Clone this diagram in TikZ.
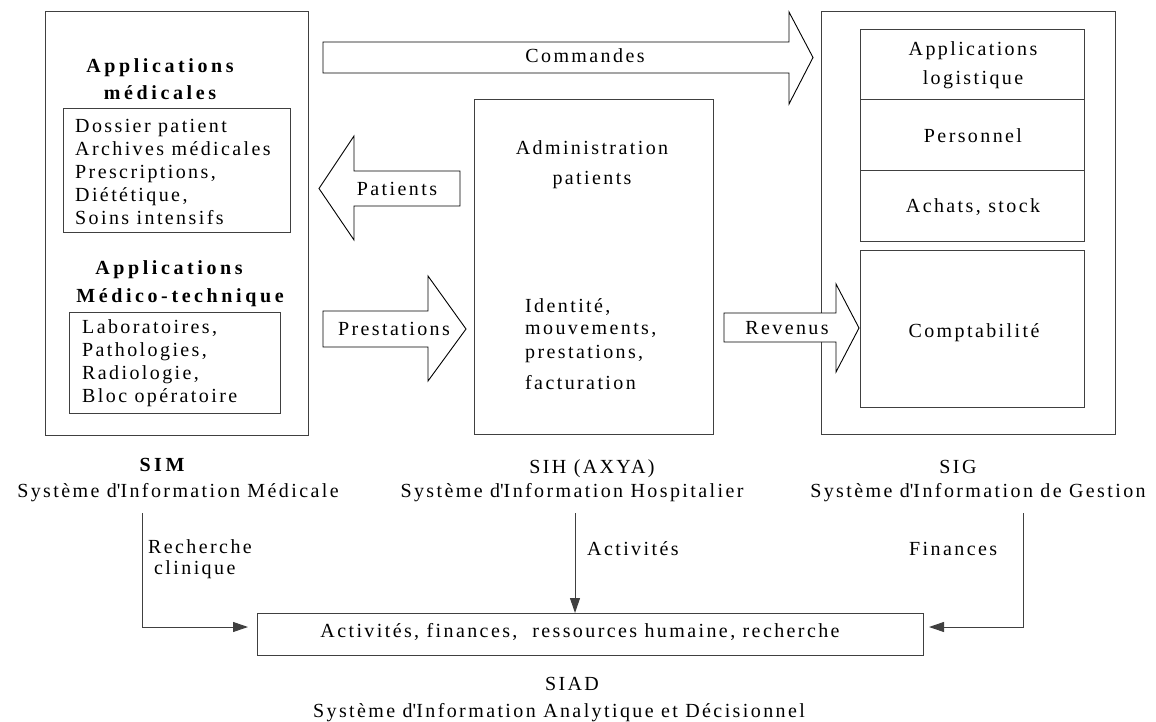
\documentclass[tikz,border=0pt]{standalone}
\usepackage{fontspec}
\setmainfont{Liberation Serif}[LetterSpace=12, BoldFeatures={LetterSpace=18}]
\usetikzlibrary{arrows.meta}
\definecolor{frame}{HTML}{404040}
\newcommand{\apos}{\textquotesingle}
\begin{document}
\begin{tikzpicture}[x=1pt,y=-1pt,
  panel/.style={draw=frame, line width=1pt, inner sep=0pt, outer sep=0pt, anchor=north west},
  blockarrow/.style={draw=black, line width=0.9pt, fill=white, line join=miter},
  lbl/.style={inner sep=0pt, anchor=base, font=\fontsize{20}{23}\selectfont},
  head/.style={lbl, font=\fontsize{20}{28}\selectfont\bfseries},
  listtxt/.style={inner sep=0pt, anchor=north west, align=left, font=\fontsize{20}{23}\selectfont},
  flow/.style={draw=frame, line width=1pt, -{Triangle[length=15pt,width=10pt]}}]
\useasboundingbox (0,0) rectangle (1156,722);

% --- SIM panel ---
\node[panel, minimum width=263, minimum height=423] (sim) at (45,12) {};
\node[head] (appmed1) at (160,73) {Applications};
\node[head] (appmed2) at (160,100) {médicales};
\node[panel, minimum width=227, minimum height=123] (medlist) at (63,109) {};
\node[listtxt] (medtxt) at (75,119.5) {Dossier patient\\Archives médicales\\Prescriptions,\\Diététique,\\Soins intensifs};
\node[head] (apptech1) at (169,274) {Applications};
\node[head] (apptech2) at (180,302) {Médico-technique};
\node[panel, minimum width=211, minimum height=101] (techlist) at (69,312) {};
\node[listtxt] (techtxt) at (82,319.5) {Laboratoires,\\Pathologies,\\Radiologie,\\Bloc opératoire};

% --- SIH panel ---
\node[panel, minimum width=239, minimum height=334] (sih) at (474,100) {};
\node[lbl] (adm1) at (592,155) {Administration};
\node[lbl] (adm2) at (592,185) {patients};
\node[lbl, anchor=base west] (ident1) at (525,312) {Identité,};
\node[lbl, anchor=base west] (ident2) at (525,334) {mouvements,};
\node[lbl, anchor=base west] (ident3) at (525,358) {prestations,};
\node[lbl, anchor=base west] (ident4) at (525,389) {facturation};

% --- SIG panel ---
\node[panel, minimum width=294, minimum height=422] (sig) at (821,12) {};
\node[panel, minimum width=224, minimum height=70] (logi) at (860,30) {};
\node[panel, minimum width=224, minimum height=71] (pers) at (860,100) {};
\node[panel, minimum width=224, minimum height=70] (achat) at (860,171) {};
\node[panel, minimum width=224, minimum height=157] (compta) at (860,250) {};
\node[lbl] (logi1) at (973,56) {Applications};
\node[lbl] (logi2) at (973,85) {logistique};
\node[lbl] (perstxt) at (973,143) {Personnel};
\node[lbl] (achattxt) at (973,213) {Achats, stock};
\node[lbl] (comptatxt) at (974,337) {Comptabilité};

% --- block arrows between the panels ---
\draw[blockarrow] (323,42) -- (789,42) -- (789,12) -- (813,57.5) -- (789,104) -- (789,73) -- (323,73) -- cycle;
\node[lbl] (cmd) at (585,63) {Commandes};
\draw[blockarrow] (460,171) -- (354,171) -- (354,136) -- (319,188.5) -- (354,240) -- (354,206) -- (460,206) -- cycle;
\node[lbl] (pat) at (397,196) {Patients};
\draw[blockarrow] (323,311) -- (428,311) -- (428,276) -- (466,329) -- (428,381) -- (428,347) -- (323,347) -- cycle;
\node[lbl] (prest) at (394,335) {Prestations};
\draw[blockarrow] (724,313) -- (836,313) -- (836,284) -- (859,328) -- (836,372) -- (836,342) -- (724,342) -- cycle;
\node[lbl] (rev) at (787,334) {Revenus};

% --- system names ---
\node[lbl, font=\fontsize{20}{23}\selectfont\bfseries] (simname) at (162,471) {SIM};
\node[lbl] (simfull) at (178,497) {Système d\apos Information Médicale};
\node[lbl] (sihname) at (592,473) {SIH (AXYA)};
\node[lbl] (sihfull) at (572,497) {Système d\apos Information Hospitalier};
\node[lbl] (signame) at (958,473) {SIG};
\node[lbl] (sigfull) at (978,497) {Système d\apos Information de Gestion};

% --- SIAD ---
\node[panel, minimum width=666, minimum height=42] (siad) at (257,613) {};
\node[lbl] (siadtxt) at (580,637) {Activités, finances,\ \ ressources humaine, recherche};
\node[lbl] (siadname) at (572,690) {SIAD};
\node[lbl] (siadfull) at (559,717) {Système d\apos Information Analytique et Décisionnel};

% --- flows into the SIAD ---
\coordinate (simfoot) at (142,513);
\coordinate (sihfoot) at (575,513);
\coordinate (sigfoot) at (1023,513);
\draw[flow, shorten >=9pt] (simfoot) |- ([yshift=7pt]siad.west);
\draw[flow] (sihfoot) -- (sihfoot |- siad.north);
\draw[flow, shorten >=6pt] (sigfoot) |- ([yshift=7pt]siad.east);
\node[lbl, anchor=base west] (rech1) at (148,553) {Recherche};
\node[lbl, anchor=base west] (rech2) at (154,574) {clinique};
\node[lbl, anchor=base west] (activ) at (587,555) {Activités};
\node[lbl, anchor=base west] (fin) at (909,555) {Finances};
\end{tikzpicture}
\end{document}
